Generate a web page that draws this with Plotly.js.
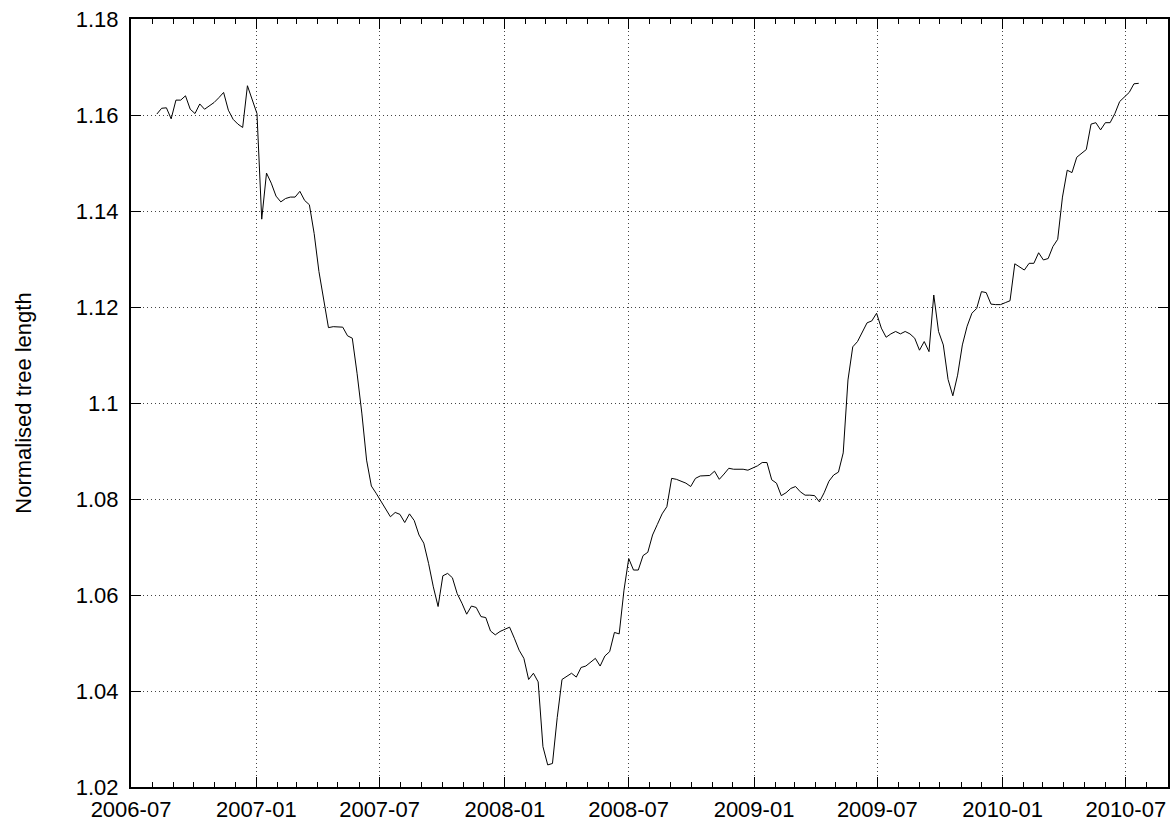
<!DOCTYPE html>
<html>
<head>
<meta charset="utf-8">
<script src="https://cdn.plot.ly/plotly-3.0.1.min.js"></script>
<style>
  html, body { margin: 0; padding: 0; background: #fff; }
  #chart { width: 1172px; height: 824px; }
</style>
</head>
<body>
<div id="chart"></div>
<script>
// Weekly samples, first one on 2006-08-08
const startDate = '2006-08-08';
const stepDays = 7;

const values2006H2 = [1.1602,1.1614,1.1615,1.1592,1.1631,1.1631,1.1640,1.1612,1.1603,1.1623,1.1612,1.1619,1.1626,1.1636,1.1647,1.1610,1.1591,1.1581,1.1574,1.1661,1.1631,1.1603,1.1383,1.1479,1.1458,1.1431,1.1419,1.1426,1.1429,1.1429,1.1441,1.1422,1.1413];
const values2007 = [1.1353,1.1274,1.1215,1.1157,1.1159,1.1159,1.1158,1.1140,1.1135,1.1062,1.0979,1.0881,1.0827,1.0812,1.0796,1.0779,1.0763,1.0772,1.0768,1.0751,1.0769,1.0755,1.0725,1.0708,1.0666,1.0617,1.0576,1.0640,1.0645,1.0636,1.0603,1.0583,1.0560,1.0577,1.0574];
const values2008H1 = [1.0555,1.0553,1.0525,1.0517,1.0524,1.0529,1.0533,1.0510,1.0485,1.0468,1.0424,1.0437,1.0419,1.0284,1.0246,1.0249,1.0345,1.0424,1.0431,1.0437,1.0429,1.0449,1.0452,1.0461,1.0468,1.0452,1.0473,1.0482,1.0522,1.0519,1.0610,1.0676,1.0652,1.0652];
const values2008H2 = [1.0682,1.0689,1.0725,1.0747,1.0769,1.0784,1.0843,1.0841,1.0837,1.0833,1.0826,1.0843,1.0848,1.0849,1.0849,1.0858,1.0841,1.0852,1.0864,1.0862,1.0862,1.0862,1.0860,1.0865,1.0869,1.0876,1.0876,1.0840,1.0833,1.0807,1.0813,1.0822,1.0826,1.0815];
const values2009 = [1.0808,1.0808,1.0807,1.0794,1.0813,1.0837,1.0850,1.0856,1.0896,1.1048,1.1117,1.1128,1.1149,1.1167,1.1171,1.1187,1.1156,1.1137,1.1144,1.1149,1.1144,1.1149,1.1144,1.1135,1.1110,1.1128,1.1107,1.1225,1.1149,1.1121,1.1049,1.1015,1.1058,1.1121,1.1160];
const values2010 = [1.1187,1.1197,1.1232,1.1230,1.1206,1.1205,1.1205,1.1209,1.1213,1.1290,1.1284,1.1277,1.1291,1.1291,1.1313,1.1298,1.1301,1.1326,1.1341,1.1429,1.1485,1.1480,1.1512,1.1521,1.1528,1.1581,1.1584,1.1569,1.1584,1.1584,1.1603,1.1628,1.1637,1.1647,1.1665,1.1666];

const yTickValues = [1.02,1.04,1.06,1.08,1.10,1.12,1.14,1.16,1.18];
const yTickLabels = ['1.02','1.04','1.06','1.08','1.1','1.12','1.14','1.16','1.18'];
const xRange = ['2006-07-01','2010-09-01'];
const yTitle = 'Normalised tree length';

const values = [].concat(values2006H2, values2007, values2008H1, values2008H2, values2009, values2010);
const t0 = Date.parse(startDate + 'T00:00:00Z');
const dates = values.map((_, i) => new Date(t0 + i * stepDays * 86400000).toISOString().slice(0, 10));

const font = 'Liberation Sans, Arial, Helvetica, sans-serif';

const trace = {
  x: dates,
  y: values,
  type: 'scatter',
  mode: 'lines',
  line: { color: '#000000', width: 1 },
  hoverinfo: 'x+y'
};

const axisCommon = {
  showline: true,
  linecolor: '#000000',
  linewidth: 2,
  mirror: 'ticks',
  ticks: 'inside',
  ticklen: 10,
  tickwidth: 1,
  tickcolor: '#000000',
  showgrid: true,
  gridcolor: '#444444',
  gridwidth: 1,
  griddash: '1px,3px',
  zeroline: false,
  tickfont: { family: font, size: 22, color: '#000000' }
};

const layout = {
  width: 1172,
  height: 824,
  margin: { l: 131, r: 4, t: 19, b: 37 },
  paper_bgcolor: '#ffffff',
  plot_bgcolor: '#ffffff',
  showlegend: false,
  font: { family: font, size: 22, color: '#000000' },
  xaxis: Object.assign({}, axisCommon, {
    type: 'date',
    range: xRange,
    tick0: '2006-07-01',
    dtick: 'M6',
    tickformat: '%Y-%m',
    ticklabelstandoff: 2,
    minor: {
      tick0: '2006-07-01',
      dtick: 'M1',
      ticks: 'inside',
      ticklen: 5,
      tickwidth: 1,
      tickcolor: '#000000',
      showgrid: false
    }
  }),
  yaxis: Object.assign({}, axisCommon, {
    range: [1.02, 1.18],
    tickmode: 'array',
    tickvals: yTickValues,
    ticktext: yTickLabels,
    ticklabelstandoff: 6,
    title: { text: yTitle, font: { family: font, size: 22, color: '#000000' }, standoff: 38 }
  })
};

Plotly.newPlot('chart', [trace], layout, { displayModeBar: false, staticPlot: true });
</script>
</body>
</html>
